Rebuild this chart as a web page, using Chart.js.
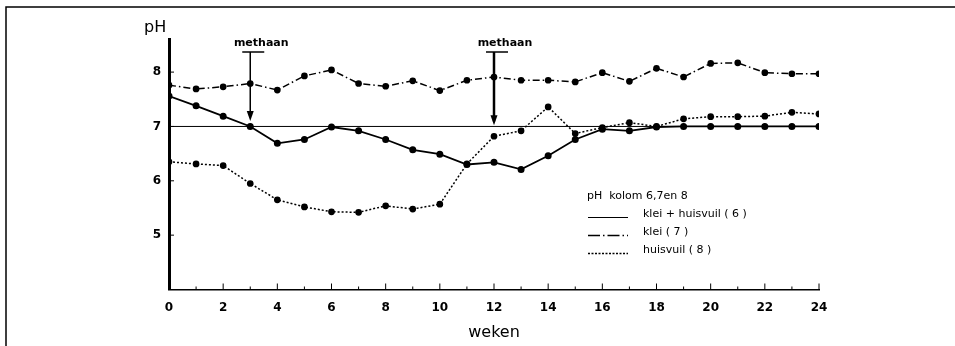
<!DOCTYPE html>
<html>
<head>
<meta charset="utf-8">
<script src="https://cdn.jsdelivr.net/npm/chart.js@4"></script>
<style>
  html, body { margin: 0; padding: 0; background: #fff; }
  #wrap { width: 955px; height: 346px; }
</style>
</head>
<body>
<div id="wrap"><canvas id="ph"></canvas></div>
<script>
// pH kolom 6, 7 en 8 — weekly readings
const weeks = [0, 1, 2, 3, 4, 5, 6, 7, 8, 9, 10, 11, 12, 13, 14, 15, 16, 17, 18, 19, 20, 21, 22, 23, 24];
const kleiHuisvuil = [7.56, 7.38, 7.19, 7.00, 6.69, 6.76, 6.99, 6.92, 6.76, 6.57, 6.49, 6.30, 6.34, 6.21, 6.46, 6.76, 6.95, 6.92, 6.99, 7.00, 7.00, 7.00, 7.00, 7.00, 7.00];
const klei         = [7.76, 7.69, 7.73, 7.79, 7.67, 7.93, 8.04, 7.79, 7.74, 7.84, 7.66, 7.85, 7.91, 7.85, 7.85, 7.82, 7.99, 7.83, 8.07, 7.91, 8.16, 8.17, 7.99, 7.97, 7.97];
const huisvuil     = [6.35, 6.31, 6.28, 5.95, 5.65, 5.52, 5.43, 5.42, 5.54, 5.48, 5.57, 6.31, 6.82, 6.92, 7.36, 6.87, 6.98, 7.07, 7.00, 7.14, 7.18, 7.18, 7.19, 7.26, 7.23];
const neutralPH = 7;
const yTicks = [5, 6, 7, 8];
const xLabelWeeks = [0, 2, 4, 6, 8, 10, 12, 14, 16, 18, 20, 22, 24];
const methaanWeeks = [3, 12];
const methaanTips = [7.1, 7.02];
const legendTitle = 'pH  kolom 6,7en 8';
const legendLabels = ['klei + huisvuil ( 6 )', 'klei ( 7 )', 'huisvuil ( 8 )'];

const FONT = '"DejaVu Sans", sans-serif';
const pts = arr => arr.map((v, i) => ({ x: weeks[i], y: v }));

// ── extra drawing: frame, inward ticks, methaan arrows, legend ──
const decor = {
  id: 'decor',
  afterDraw(chart) {
    const { ctx, chartArea: a, scales: { x, y } } = chart;
    ctx.save();
    ctx.strokeStyle = '#000';
    ctx.fillStyle = '#000';

    // page frame
    ctx.lineWidth = 1.5;
    ctx.beginPath();
    ctx.moveTo(6, 346); ctx.lineTo(6, 7); ctx.lineTo(955, 7);
    ctx.stroke();

    // inward ticks
    ctx.lineWidth = 1;
    weeks.forEach(w => {
      const px = x.getPixelForValue(w);
      const len = w % 2 === 0 ? 6 : 3;
      ctx.beginPath(); ctx.moveTo(px, a.bottom); ctx.lineTo(px, a.bottom - len); ctx.stroke();
    });
    yTicks.forEach(v => {
      const py = y.getPixelForValue(v);
      ctx.beginPath(); ctx.moveTo(a.left, py); ctx.lineTo(a.left + 5, py); ctx.stroke();
    });

    // axis title pH
    ctx.font = '16px ' + FONT;
    ctx.textAlign = 'left';
    ctx.textBaseline = 'alphabetic';
    ctx.fillText('pH', 144, 32);

    // methaan arrows
    methaanWeeks.forEach((w, i) => {
      const px = x.getPixelForValue(w);
      const tip = y.getPixelForValue(methaanTips[i]);
      const top = 52;
      ctx.font = 'bold 11px ' + FONT;
      ctx.textAlign = 'center';
      ctx.fillText('methaan', px + 11, 46);
      ctx.lineWidth = 1.5;
      ctx.beginPath(); ctx.moveTo(px - 8, top); ctx.lineTo(px + 14, top); ctx.stroke();
      ctx.lineWidth = i === 0 ? 1.5 : 2.5;
      ctx.beginPath(); ctx.moveTo(px, top); ctx.lineTo(px, tip - 4); ctx.stroke();
      ctx.beginPath();
      ctx.moveTo(px - 3.5, tip - 10); ctx.lineTo(px + 3.5, tip - 10); ctx.lineTo(px, tip);
      ctx.closePath(); ctx.fill();
    });

    // legend
    ctx.font = '11px ' + FONT;
    ctx.textAlign = 'left';
    ctx.textBaseline = 'middle';
    ctx.fillText(legendTitle, 587, 196);
    const dashes = [[], [12, 3, 1.5, 3], [2, 1.5]];
    const widths = [1, 1.5, 1.5];
    const rows = [214, 232, 250];
    legendLabels.forEach((lbl, i) => {
      ctx.lineWidth = widths[i];
      ctx.setLineDash(dashes[i]);
      ctx.beginPath(); ctx.moveTo(588, rows[i] + 3.5); ctx.lineTo(628, rows[i] + 3.5); ctx.stroke();
      ctx.setLineDash([]);
      ctx.fillText(lbl, 643, rows[i]);
    });
    ctx.restore();
  }
};

new Chart(document.getElementById('ph'), {
  type: 'line',
  data: {
    datasets: [
      {
        label: 'pH 7',
        data: [{ x: weeks[0], y: neutralPH }, { x: weeks[weeks.length - 1], y: neutralPH }],
        borderColor: '#000', borderWidth: 1, pointRadius: 0,
      },
      {
        label: legendLabels[0],
        data: pts(kleiHuisvuil),
        borderColor: '#000', borderWidth: 1.8,
        pointRadius: 2.6, pointBackgroundColor: '#000', pointBorderColor: '#000',
      },
      {
        label: legendLabels[1],
        data: pts(klei),
        borderColor: '#000', borderWidth: 1.5, borderDash: [7, 3, 1.5, 3],
        pointRadius: 2.6, pointBackgroundColor: '#000', pointBorderColor: '#000',
      },
      {
        label: legendLabels[2],
        data: pts(huisvuil),
        borderColor: '#000', borderWidth: 1.5, borderDash: [2, 2],
        pointRadius: 2.6, pointBackgroundColor: '#000', pointBorderColor: '#000',
      },
    ],
  },
  options: {
    responsive: true,
    maintainAspectRatio: false,
    animation: false,
    layout: { padding: { top: 39.5, right: 136, left: 0, bottom: 0 } },
    plugins: { legend: { display: false }, tooltip: { enabled: false } },
    scales: {
      x: {
        type: 'linear', min: 0, max: 24,
        afterFit: s => { s.height = 56.5; },
        afterBuildTicks: s => { s.ticks = xLabelWeeks.map(v => ({ value: v })); },
        grid: { display: false, drawTicks: false },
        border: { display: true, color: '#000', width: 1.5 },
        ticks: { color: '#000', padding: 11, maxRotation: 0, font: { family: FONT, size: 12, weight: 'bold' } },
        title: { display: true, text: 'weken', color: '#000', padding: { top: 0, bottom: 4 }, font: { family: FONT, size: 16 } },
      },
      y: {
        min: 4, max: 8.6,
        afterFit: s => { s.width = 169; },
        afterBuildTicks: s => { s.ticks = yTicks.map(v => ({ value: v })); },
        grid: { display: false, drawTicks: false },
        border: { display: true, color: '#000', width: 3 },
        ticks: { color: '#000', padding: 8, font: { family: FONT, size: 12, weight: 'bold' } },
      },
    },
  },
  plugins: [decor],
});
</script>
</body>
</html>
